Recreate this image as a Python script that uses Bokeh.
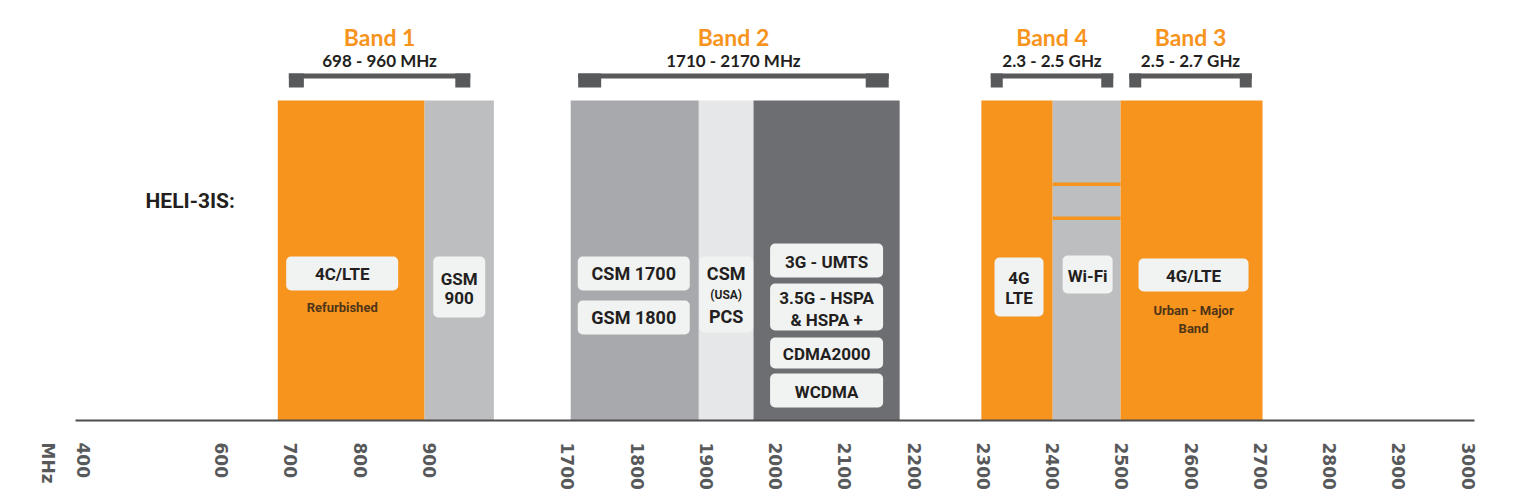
import numpy as np
from bokeh.plotting import figure
from bokeh.models import Range1d, FixedTicker, ColumnDataSource
from bokeh.core.properties import value
from bokeh.embed import file_html
from bokeh.resources import INLINE

# ------------------------------------------------------------------ data
TICK_MHZ = [400, 600, 700, 800, 900, 1700, 1800, 1900, 2000, 2100, 2200,
            2300, 2400, 2500, 2600, 2700, 2800, 2900, 3000]
UNIT_LABEL = "MHz"
ROW_LABEL = "HELI-3IS:"

BAND_NAMES = ["Band 1", "Band 2", "Band 4", "Band 3"]
BAND_SPANS = ["698 - 960 MHz", "1710 - 2170 MHz", "2.3 - 2.5 GHz", "2.5 - 2.7 GHz"]
BAND_LO_MHZ = [698, 1710, 2300, 2500]
BAND_HI_MHZ = [960, 2170, 2500, 2700]

BLOCK_LO_MHZ = [682, 894, 1705, 1890, 1969, 2298, 2401, 2499]
BLOCK_HI_MHZ = [894, 994, 1890, 1969, 2180, 2401, 2499, 2704]
BLOCK_KIND = ["lte", "gsm900", "gsm", "pcs", "3g", "lte", "wifi", "lte"]

SERVICE_LINES = ["4C/LTE", "Refurbished", "GSM", "900", "CSM 1700", "GSM 1800",
                 "CSM", "(USA)", "PCS", "3G - UMTS", "3.5G - HSPA", "& HSPA +",
                 "CDMA2000", "WCDMA", "4G", "LTE", "Wi-Fi", "4G/LTE",
                 "Urban - Major", "Band"]
SERVICE_BLOCK = [0, 0, 1, 1, 2, 2, 3, 3, 3, 4, 4, 4, 4, 4, 5, 5, 6, 7, 7, 7]

# ------------------------------------------------------------------ layout / style
W, H = 1507, 500
PX0, PXU = 82.0, 69.25          # screen px of slot 0, px per slot
Y_AXIS = 420                    # screen y of axis line
# broken frequency scale: 400-1000 linear, 1000-1700 squeezed, 1700-3000 linear
ANCHOR_MHZ = [400, 1000, 1700, 3000]
ANCHOR_SLOT = [0, 6, 7, 20]

ORANGE = "#F7941D"
KIND_COLOR = {"lte": ORANGE, "gsm900": "#BCBEC0", "gsm": "#A7A9AC",
              "pcs": "#E6E7E8", "3g": "#6D6E71", "wifi": "#BCBEC0"}
DARK = "#231F20"
BROWN = "#4F3518"
BRACKET = "#58595B"
BOX = "#F1F2F2"


def slot(mhz):
    return np.interp(np.asarray(mhz, dtype=float), ANCHOR_MHZ, ANCHOR_SLOT)


def px_to_slot(px):
    return (np.asarray(px, dtype=float) - PX0) / PXU


def pxw(px):
    return np.asarray(px, dtype=float) / PXU


p = figure(width=W, height=H, output_backend="svg", toolbar_location=None,
           x_range=Range1d(float(px_to_slot(0)), float(px_to_slot(W))),
           y_range=Range1d(Y_AXIS, 0),
           y_axis_location=None, min_border_left=0, min_border_right=0,
           min_border_top=0, min_border_bottom=H - Y_AXIS)
p.outline_line_color = None
p.xgrid.visible = False
p.ygrid.visible = False
p.background_fill_color = "white"
p.border_fill_color = "white"

# ------------------------------------------------------------------ blocks
blk = ColumnDataSource(dict(
    left=slot(BLOCK_LO_MHZ), right=slot(BLOCK_HI_MHZ),
    top=[100] * len(BLOCK_LO_MHZ), bottom=[Y_AXIS] * len(BLOCK_LO_MHZ),
    color=[KIND_COLOR[k] for k in BLOCK_KIND]))
p.quad(left="left", right="right", top="top", bottom="bottom",
       fill_color="color", line_color=None, source=blk)

# Wi-Fi column separators
wi = BLOCK_KIND.index("wifi")
p.quad(left=[slot(BLOCK_LO_MHZ[wi])] * 2, right=[slot(BLOCK_HI_MHZ[wi])] * 2,
       top=[182, 216], bottom=[185.5, 219.5], fill_color=ORANGE, line_color=None)

# ------------------------------------------------------------------ label boxes
block_mid = (slot(BLOCK_LO_MHZ) + slot(BLOCK_HI_MHZ)) / 2
# (block, dx px, y centre, width px, height px)
BOXES = [(0, -9, 273, 112, 34), (1, 0, 286.5, 52, 61), (2, -1, 273, 112, 34),
         (2, -1, 317, 112, 34), (3, 0, 294, 54, 76), (4, 0, 260, 113, 34),
         (4, 0, 306.5, 113, 47), (4, 0, 352.5, 113, 31), (4, 0, 390, 113, 34),
         (5, 2, 286.5, 49, 59), (6, 1, 274, 50, 38), (7, 2, 274.5, 110, 33)]
bx = np.array([block_mid[b] + pxw(dx) for b, dx, *_ in BOXES])
bw = np.array([pxw(w) for *_, w, h in BOXES])
by = np.array([y for _, _, y, _, _ in BOXES])
bh = np.array([h for *_, h in BOXES])
boxes = p.quad(left=bx - bw / 2, right=bx + bw / 2, top=by - bh / 2, bottom=by + bh / 2,
               fill_color=BOX, line_color=None)
try:
    boxes.glyph.border_radius = 5
except Exception:
    pass

# service texts: (dx px, y, size, colour)
LINE_STYLE = [(-9, 273, 17, DARK), (-9, 307, 13, BROWN), (0, 278, 17, DARK),
              (0, 297, 17, DARK), (-1, 273, 18, DARK), (-1, 317, 18, DARK),
              (0, 273, 18, DARK), (0, 294, 12, DARK), (0, 316, 18, DARK),
              (0, 261, 17, DARK), (0, 297, 17, DARK), (0, 319, 17, DARK),
              (0, 353, 17, DARK), (0, 391, 17, DARK), (2, 277, 17, DARK),
              (2, 297, 17, DARK), (1, 275, 17, DARK), (2, 275, 17, DARK),
              (2, 310, 13, BROWN), (2, 328, 13, BROWN)]
txt = ColumnDataSource(dict(
    x=[block_mid[b] + pxw(s[0]) for b, s in zip(SERVICE_BLOCK, LINE_STYLE)],
    y=[s[1] for s in LINE_STYLE],
    text=SERVICE_LINES,
    size=[f"{s[2]}px" for s in LINE_STYLE],
    color=[s[3] for s in LINE_STYLE]))
p.text(x="x", y="y", text="text", text_font_size="size", text_color="color",
       text_font=value("Roboto"), text_font_style="bold", text_align="center",
       text_baseline="middle", source=txt)

# ------------------------------------------------------------------ band brackets & titles
FOOT_W = [15, 23, 12, 12]
INSET = [0, 4, 8, 8]
bl = slot(BAND_LO_MHZ) + pxw(INSET)
br = slot(BAND_HI_MHZ) - pxw(INSET)
fw = pxw(FOOT_W)
p.quad(left=bl, right=br, top=[73] * 4, bottom=[78] * 4,
       fill_color=BRACKET, line_color=None)
p.quad(left=np.concatenate([bl, br - fw]), right=np.concatenate([bl + fw, br]),
       top=[73] * 8, bottom=[87] * 8, fill_color=BRACKET, line_color=None)
bc = (bl + br) / 2
p.text(x=bc, y=[36] * 4, text=BAND_NAMES, text_font=value("Lato"),
       text_font_style="bold", text_font_size="23px", text_color=ORANGE,
       text_align="center", text_baseline="middle")
p.text(x=bc, y=[60] * 4, text=BAND_SPANS, text_font=value("Lato"),
       text_font_style="bold", text_font_size="17px", text_color=DARK,
       text_align="center", text_baseline="middle")

# row label
p.text(x=[px_to_slot(145)], y=[200], text=[ROW_LABEL], text_font=value("Roboto"),
       text_font_style="bold", text_font_size="21px", text_color=DARK,
       text_align="left", text_baseline="middle")

# ------------------------------------------------------------------ axis
tick_pos = [float(v) for v in slot(TICK_MHZ)]
unit_pos = float(px_to_slot(47))
labels = {t: str(m) + "\u2007" * (4 - len(str(m))) for t, m in zip(tick_pos, TICK_MHZ)}
labels[unit_pos] = UNIT_LABEL
ax = p.xaxis[0]
ax.ticker = FixedTicker(ticks=[unit_pos] + tick_pos)
ax.major_label_overrides = labels
ax.major_label_orientation = "vertical"
ax.major_tick_in = 0
ax.major_tick_out = 0
ax.minor_tick_in = 0
ax.minor_tick_out = 0
ax.major_label_standoff = 22
ax.axis_line_width = 2
ax.axis_line_color = "#4D4D4F"
ax.bounds = (float(px_to_slot(75)), float(px_to_slot(1474)))
ax.major_label_text_font = "DejaVu Sans"
ax.major_label_text_font_style = "bold"
ax.major_label_text_font_size = "17px"
ax.major_label_text_color = "#58595B"

open("out.html", "w").write(file_html(p, INLINE))
